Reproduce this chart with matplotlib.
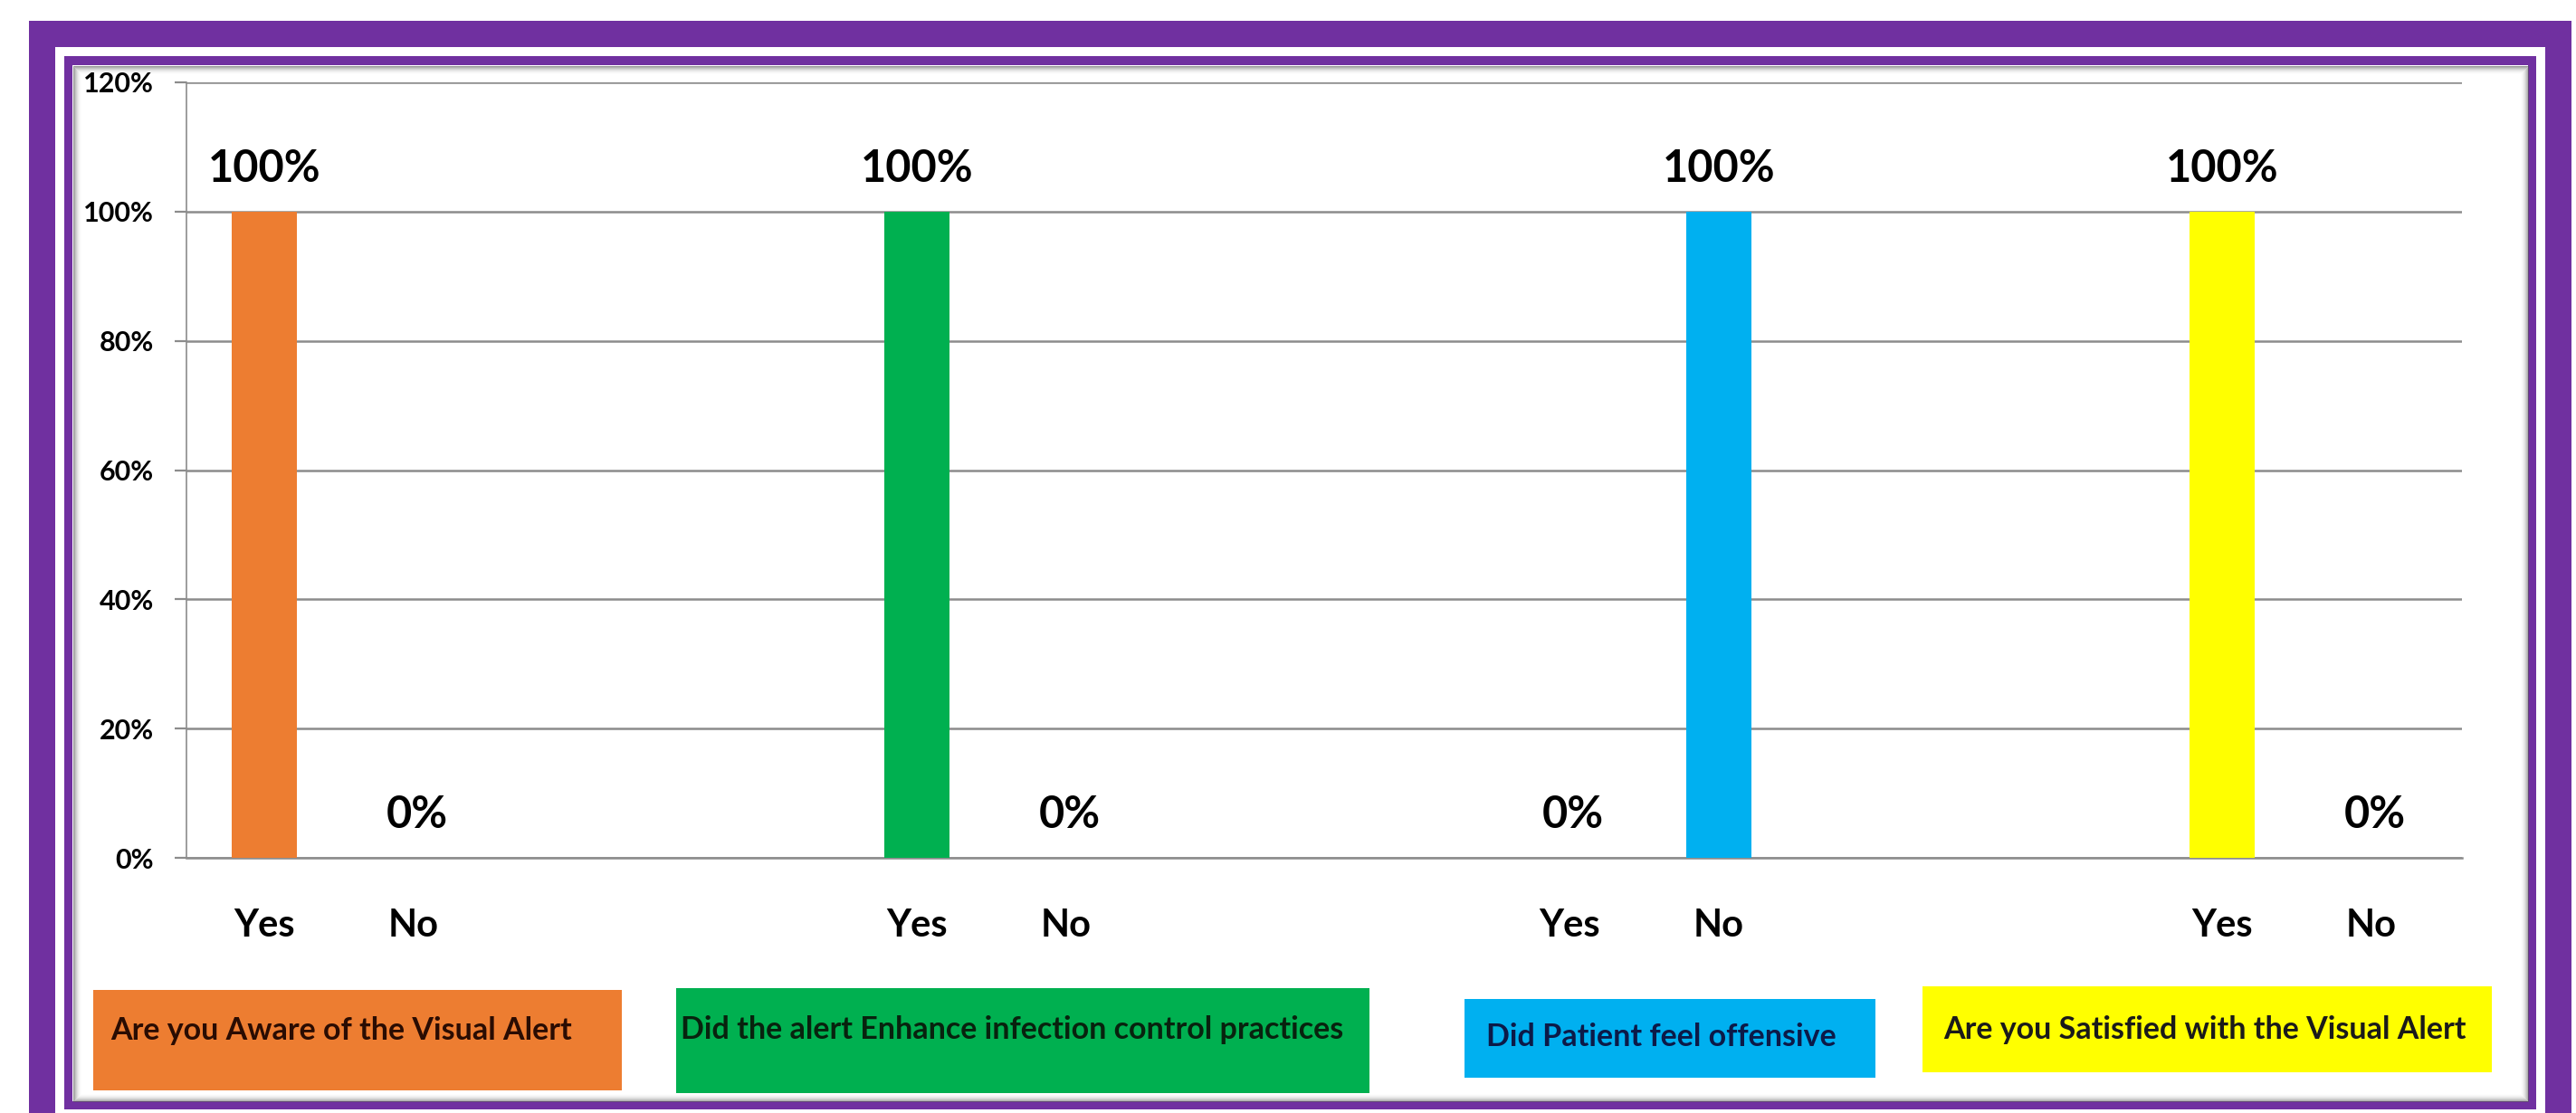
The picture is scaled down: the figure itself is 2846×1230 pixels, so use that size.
import matplotlib
matplotlib.use("Agg")
import matplotlib.pyplot as plt
from matplotlib.patches import Rectangle
from matplotlib import font_manager as fm

# ---------------- data ----------------
questions = [
    "Are you Aware of the Visual Alert",
    "Did the alert Enhance infection control practices",
    "Did Patient feel offensive",
    "Are you Satisfied with the Visual Alert",
]
answers = ["Yes", "No"]
yes_pct = [100, 100, 0, 100]
no_pct = [0, 0, 100, 0]
y_ticks = [0, 20, 40, 60, 80, 100, 120]
bar_colors = ["#ED7D31", "#00B050", "#00B0F0", "#FFFF00"]
text_colors = ["#2a0c02", "#08220e", "#0c1a48", "#1a1a1a"]

# ---------------- layout ----------------
W, H = 2846, 1230
DPI = 100
PURPLE = "#7030A0"
GRID = "#8c8c8c"

names = {f.name for f in fm.fontManager.ttflist}
if "Liberation Sans Narrow" in names:
    val_family, val_size, val_weight = ["Liberation Sans Narrow", "DejaVu Sans"], 42, "bold"
else:
    val_family, val_size, val_weight = ["Lato", "DejaVu Sans"], 35, "bold"
main_family = ["Lato", "DejaVu Sans"]

fig = plt.figure(figsize=(W / DPI, H / DPI), dpi=DPI)
fig.patch.set_facecolor("white")

bg = fig.add_axes([0, 0, 1, 1], zorder=0)
bg.set_xlim(0, W)
bg.set_ylim(H, 0)
bg.axis("off")

# frames (pixel coordinates in bg axes)
frames = [
    ((32, 23), 2841 - 32, 1260 - 23, PURPLE),
    ((61, 52), 2812 - 61, 1260 - 52, "white"),
    ((71, 62), 2802 - 71, 1226 - 62, PURPLE),
    ((80, 72), 2793 - 80, 1217 - 72, "white"),
]
for (xy, w, h, c) in frames:
    bg.add_patch(Rectangle(xy, w, h, facecolor=c, edgecolor="none"))

# inset shadow of the white panel
px = 72.0 / DPI
for k in range(9):
    a = 0.6 * (1 - k / 9) ** 2
    bg.add_patch(Rectangle((80 + k + 0.5, 72 + k + 0.5), 2793 - 80 - 2 * k - 1,
                           1217 - 72 - 2 * k - 1, fill=False,
                           edgecolor=(0.35, 0.35, 0.35, a), lw=1.0 * px))

# legend-like label boxes
box_rects = [
    (103, 1094, 584, 111),
    (747, 1092, 766, 116),
    (1618, 1104, 454, 87),
    (2124, 1090, 629, 95),
]
text_anchor = [(122, 1149), (752, 1148), (1642, 1156), (2147, 1148)]
for q, c, tc, (x0, y0, w, h), (tx, ty) in zip(questions, bar_colors, text_colors,
                                              box_rects, text_anchor):
    bg.add_patch(Rectangle((x0, y0), w, h, facecolor=c, edgecolor="none"))
    bg.text(tx, ty, q, ha="left", va="baseline", fontsize=24.5, fontweight="bold",
            family=main_family, color=tc)

# ---------------- main chart ----------------
ax_left, ax_right, ax_top, ax_bottom = 206, 2720, 91, 948
ax = fig.add_axes([ax_left / W, 1 - ax_bottom / H, (ax_right - ax_left) / W,
                   (ax_bottom - ax_top) / H], zorder=2)
ax.set_facecolor("none")

FIRST, STEP, BAR_W = 0.52, 4.37, 0.436
pos_yes = [FIRST + STEP * i for i in range(len(questions))]
pos_no = [p + 1 for p in pos_yes]

for i in range(len(questions)):
    for p, v in ((pos_yes[i], yes_pct[i]), (pos_no[i], no_pct[i])):
        ax.bar(p, v, width=BAR_W, color=bar_colors[i], zorder=3)
        ax.annotate(f"{v}%", (p, v), xytext=(3 if v == 0 else 0, 23.5),
                    textcoords="offset points", ha="center", va="baseline",
                    fontsize=val_size, fontweight=val_weight,
                    family=val_family, color="black", zorder=4)

ax.set_xlim(0, (ax_right - ax_left) / 165.0)
ax.set_ylim(0, 120)
ax.set_yticks(y_ticks)
ax.set_yticklabels([f"{t}%" for t in y_ticks], fontsize=22, fontweight="bold",
                   family=main_family)
xt, xl = [], []
for i in range(len(questions)):
    xt += [pos_yes[i], pos_no[i]]
    xl += answers
ax.set_xticks(xt)
ax.set_xticklabels(xl, fontsize=30, fontweight="bold", family=main_family)

ax.tick_params(axis="y", length=13 * px, width=1.6, color=GRID, pad=23 * px)
ax.tick_params(axis="x", length=0, pad=40)
ax.yaxis.grid(True, color=GRID, lw=1.8)
ax.set_axisbelow(True)
for s in ("top", "right"):
    ax.spines[s].set_visible(False)
ax.spines["left"].set_color(GRID)
ax.spines["left"].set_linewidth(1.2)
ax.spines["bottom"].set_color(GRID)
ax.spines["bottom"].set_linewidth(1.8)

fig.savefig("out.png", dpi=DPI, facecolor="white")
